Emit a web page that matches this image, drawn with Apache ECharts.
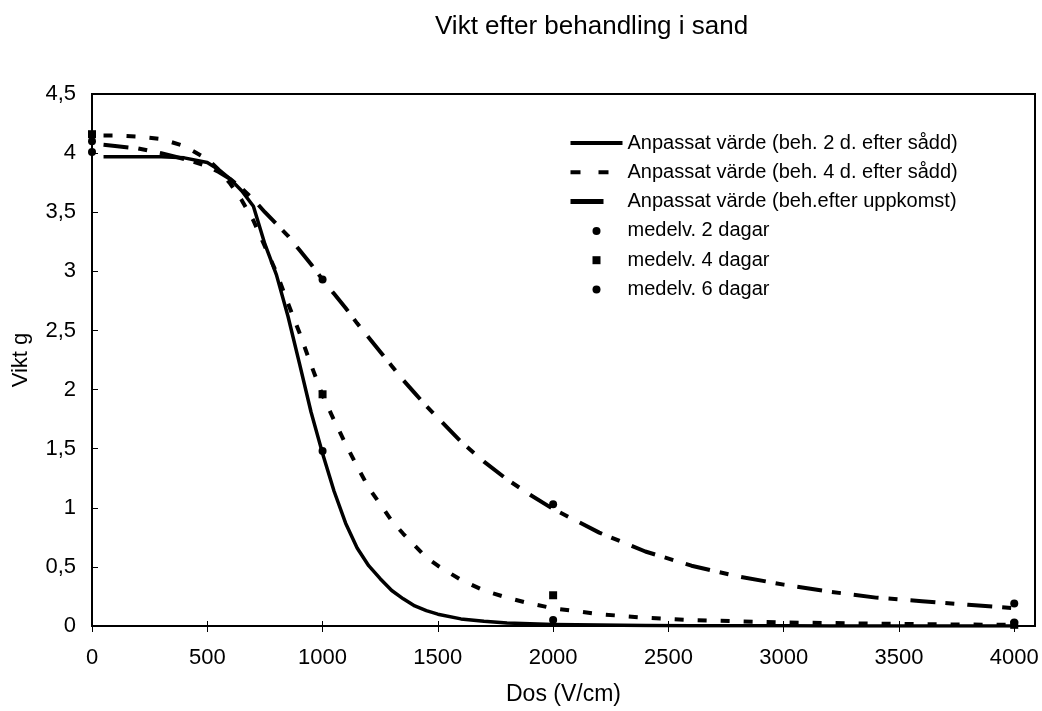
<!DOCTYPE html>
<html>
<head>
<meta charset="utf-8">
<script src="https://cdn.jsdelivr.net/npm/echarts@6/dist/echarts.min.js"></script>
<style>
html,body{margin:0;padding:0;background:#fff;}
#chart{width:1042px;height:711px;}
</style>
</head>
<body>
<div id="chart"></div>
<script>
// ---- data ----
var titleText = 'Vikt efter behandling i sand';
var xName = 'Dos (V/cm)';
var yName = 'Vikt g';
var xTicks = [0, 500, 1000, 1500, 2000, 2500, 3000, 3500, 4000];

var seriesNames = [
  'Anpassat värde (beh. 2 d. efter sådd)',
  'Anpassat värde (beh. 4 d. efter sådd)',
  'Anpassat värde (beh.efter uppkomst)',
  'medelv. 2 dagar',
  'medelv. 4 dagar',
  'medelv. 6 dagar'
];

// dose values of the fitted curves
var fitDose = [50,100,200,300,400,500,550,600,650,700,750,800,850,900,950,1000,1050,1100,1150,1200,1250,1300,1350,1400,1450,1500,1600,1700,1800,1900,2000,2200,2400,2600,2800,3000,3200,3400,3600,3800,4000];
// fitted: treated 2 days after sowing (solid)
var fit2d = [3.97,3.97,3.97,3.97,3.96,3.92,3.86,3.78,3.68,3.55,3.23,2.97,2.62,2.22,1.81,1.46,1.14,0.87,0.66,0.51,0.40,0.30,0.23,0.17,0.13,0.10,0.06,0.04,0.025,0.018,0.013,0.008,0.005,0.003,0.002,0.002,0.001,0.001,0.001,0.001,0];
// fitted: treated 4 days after sowing (short dashes)
var fit4d = [4.15,4.15,4.14,4.12,4.06,3.95,3.86,3.74,3.60,3.43,3.21,2.99,2.73,2.48,2.21,1.95,1.74,1.54,1.35,1.17,1.03,0.89,0.78,0.68,0.58,0.51,0.39,0.30,0.24,0.19,0.15,0.10,0.07,0.05,0.04,0.03,0.025,0.02,0.015,0.012,0.01];
// fitted: treated after emergence (dash-dot)
var fitUpp = [4.07,4.06,4.04,4.00,3.95,3.89,3.84,3.78,3.70,3.61,3.50,3.40,3.30,3.18,3.06,2.93,2.81,2.69,2.56,2.44,2.32,2.20,2.08,1.97,1.86,1.76,1.56,1.39,1.24,1.11,0.99,0.79,0.63,0.51,0.42,0.35,0.29,0.24,0.21,0.18,0.15];

// measured means
var markDose = [0, 1000, 2000, 4000];
var mean2 = [4.01, 1.48, 0.05, 0.03];
var mean4 = [4.16, 1.96, 0.26, 0.01];
var mean6 = [4.10, 2.93, 1.03, 0.19];

// ---- chart ----
function pairs(xs, ys) { return xs.map(function (x, i) { return [x, ys[i]]; }); }
var FONT = "'Liberation Sans', Arial, sans-serif";
var chart = echarts.init(document.getElementById('chart'), null, { renderer: 'canvas' });

var gridRect = { left: 92, top: 94, right: 7, bottom: 84 };
var X_MAX = 4090;

var option = {
  backgroundColor: '#fff',
  animation: false,
  textStyle: { fontFamily: FONT, color: '#000' },
  title: {
    text: titleText,
    left: 430, top: 9,
    textStyle: { fontFamily: FONT, fontSize: 26, fontWeight: 'normal', color: '#000' }
  },
  legend: {
    orient: 'vertical',
    left: 563, top: 128,
    itemWidth: 52, itemHeight: 8, itemGap: 9.3,
    textStyle: { fontFamily: FONT, fontSize: 20, color: '#000' },
    lineStyle: { width: 4 },
    data: [
      { name: seriesNames[0], lineStyle: { width: 4, type: 'solid' } },
      { name: seriesNames[1], lineStyle: { width: 4, type: [10, 18] } },
      { name: seriesNames[2], lineStyle: { width: 5, type: [33, 19, 2, 10] } },
      { name: seriesNames[3], icon: 'circle' },
      { name: seriesNames[4], icon: 'path://M0,0H10V10H0Z' },
      { name: seriesNames[5], icon: 'circle' }
    ]
  },
  grid: [
    Object.assign({ show: true, borderColor: '#000', borderWidth: 2, containLabel: false }, gridRect),
    Object.assign({ show: false }, gridRect)
  ],
  xAxis: [
    {
      type: 'value', gridIndex: 0, min: 0, max: X_MAX,
      name: xName, nameLocation: 'middle', nameGap: 57,
      nameTextStyle: { fontFamily: FONT, fontSize: 23, color: '#000' },
      axisLine: { show: true, lineStyle: { color: '#000', width: 2 } },
      axisTick: { show: true, inside: false, length: 6, customValues: xTicks, lineStyle: { color: '#000', width: 1 } },
      axisLabel: {
        customValues: xTicks, fontFamily: FONT, fontSize: 22, color: '#000', margin: 21,
        formatter: function (v) { return String(v); }
      },
      splitLine: { show: false }
    },
    {
      type: 'value', gridIndex: 1, min: 0, max: X_MAX,
      axisLine: { show: false },
      axisTick: { show: true, inside: true, length: 6, customValues: xTicks, lineStyle: { color: '#000', width: 1 } },
      axisLabel: { show: false },
      splitLine: { show: false }
    }
  ],
  yAxis: [
    {
      type: 'value', gridIndex: 0, min: 0, max: 4.5, interval: 0.5,
      name: yName, nameLocation: 'middle', nameRotate: 90, nameGap: 60,
      nameTextStyle: { fontFamily: FONT, fontSize: 22, color: '#000' },
      axisLine: { show: true, lineStyle: { color: '#000', width: 2 } },
      axisTick: { show: true, inside: true, length: 6, lineStyle: { color: '#000', width: 1 } },
      axisLabel: {
        fontFamily: FONT, fontSize: 22, color: '#000', margin: 16,
        formatter: function (v) { return String(v).replace('.', ','); }
      },
      splitLine: { show: false }
    },
    {
      type: 'value', gridIndex: 1, min: 0, max: 4.5, show: false
    }
  ],
  series: [
    {
      name: seriesNames[0], type: 'line', xAxisIndex: 0, yAxisIndex: 0,
      data: pairs(fitDose, fit2d), showSymbol: false, symbol: 'none', smooth: false,
      itemStyle: { color: '#000', opacity: 0 },
      lineStyle: { color: '#000', width: 3.5, type: 'solid', join: 'round' }, z: 3
    },
    {
      name: seriesNames[1], type: 'line', xAxisIndex: 0, yAxisIndex: 0,
      data: pairs(fitDose, fit4d), showSymbol: false, symbol: 'none', smooth: false,
      itemStyle: { color: '#000', opacity: 0 },
      lineStyle: { color: '#000', width: 4, type: [9, 14] }, z: 3
    },
    {
      name: seriesNames[2], type: 'line', xAxisIndex: 0, yAxisIndex: 0,
      data: pairs(fitDose, fitUpp), showSymbol: false, symbol: 'none', smooth: false,
      itemStyle: { color: '#000', opacity: 0 },
      lineStyle: { color: '#000', width: 4, type: [25, 10, 9, 13] }, z: 3
    },
    {
      name: seriesNames[3], type: 'scatter', xAxisIndex: 0, yAxisIndex: 0,
      data: pairs(markDose, mean2), symbol: 'circle', symbolSize: 8, clip: false,
      itemStyle: { color: '#000', opacity: 1 }, z: 4
    },
    {
      name: seriesNames[4], type: 'scatter', xAxisIndex: 0, yAxisIndex: 0,
      data: pairs(markDose, mean4), symbol: 'rect', symbolSize: 8, clip: false,
      itemStyle: { color: '#000', opacity: 1 }, z: 4
    },
    {
      name: seriesNames[5], type: 'scatter', xAxisIndex: 0, yAxisIndex: 0,
      data: pairs(markDose, mean6), symbol: 'circle', symbolSize: 8, clip: false,
      itemStyle: { color: '#000', opacity: 1 }, z: 4
    }
  ]
};
chart.setOption(option);
</script>
</body>
</html>
